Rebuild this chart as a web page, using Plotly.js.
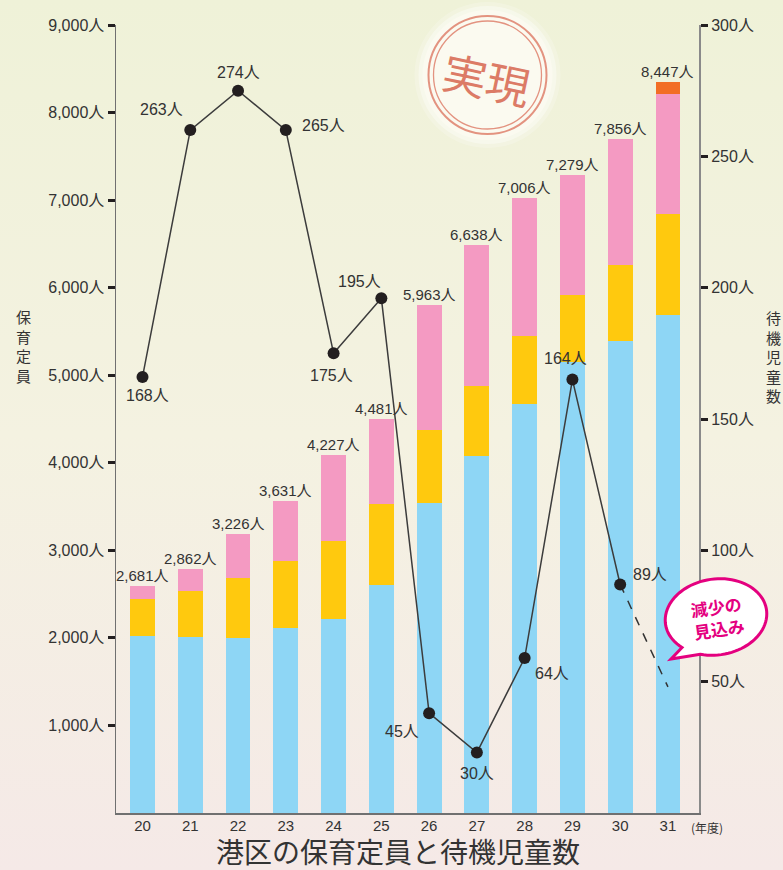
<!DOCTYPE html>
<html>
<head>
<meta charset="utf-8">
<script src="https://cdn.plot.ly/plotly-3.0.1.min.js"></script>
<style>
html,body{margin:0;padding:0;}
body{width:783px;height:870px;background:linear-gradient(to bottom,#eff2d8 0%,#f4f2e1 50%,#f5e9e7 100%);}
#chart{width:783px;height:870px;}
</style>
</head>
<body>
<div id="chart"></div>
<script>
// ---- data ----
const years = [20, 21, 22, 23, 24, 25, 26, 27, 28, 29, 30, 31];
const yearLabels = ['20', '21', '22', '23', '24', '25', '26', '27', '28', '29', '30', '31'];
const blueSeg   = [2022, 2007, 1999, 2113, 2212, 2600, 3535, 4082, 4667, 5146, 5393, 5693];
const yellowSeg = [418, 524, 684, 760, 889, 927, 844, 798, 783, 775, 867, 1152];
const pinkSeg   = [148, 251, 498, 696, 992, 977, 1425, 1608, 1577, 1365, 1437, 1365];
const orangeSeg = [0, 0, 0, 0, 0, 0, 0, 0, 0, 0, 0, 137];
const capacityLabels = ['2,681人', '2,862人', '3,226人', '3,631人', '4,227人', '4,481人', '5,963人', '6,638人', '7,006人', '7,279人', '7,856人', '8,447人'];
const waitYears  = [20, 21, 22, 23, 24, 25, 26, 27, 28, 29, 30];
const waitValues = [166, 260, 275, 260, 175, 196, 38, 23, 59, 165, 87];
const waitLabels = ['168人', '263人', '274人', '265人', '175人', '195人', '45人', '30人', '64人', '164人', '89人'];
const forecastYears  = [30, 31];
const forecastValues = [87, 48];
const leftTicks = [1000, 2000, 3000, 4000, 5000, 6000, 7000, 8000, 9000];
const leftTickText = ['1,000人', '2,000人', '3,000人', '4,000人', '5,000人', '6,000人', '7,000人', '8,000人', '9,000人'];
const rightTicks = [50, 100, 150, 200, 250, 300];
const rightTickText = ['50人', '100人', '150人', '200人', '250人', '300人'];
const leftTitle = '保育定員';
const rightTitle = '待機児童数';
const chartTitle = '港区の保育定員と待機児童数';

// ---- styling (label offsets in px) ----
const waitLabelShift = [[5,-19],[-29,21],[0,18],[38,5],[-2,-22],[-22,17],[-27,-18],[0,-21],[27,-15],[-7,21],[30,10]];

const FONT = 'Liberation Sans, Arial, Noto Sans CJK JP, sans-serif';
const CJK = 'Noto Sans CJK JP, sans-serif';
const TXT = '#333333';

// pixel -> paper helpers (plot area 116..699 x 25..813)
const L = 116, R = 699, T = 25, B = 813;
const px = x => (x - L) / (R - L);
const py = y => (B - y) / (B - T);

const stackSeries = [
  {y: blueSeg, color: '#8ed6f5'},
  {y: yellowSeg, color: '#ffc90e'},
  {y: pinkSeg, color: '#f49ac2'},
  {y: orangeSeg, color: '#f26e25'}
];
const traces = stackSeries.map(s => ({
  type: 'bar', x: years, y: s.y, width: 0.52,
  marker: {color: s.color, line: {width: 0}},
  hoverinfo: 'skip', showlegend: false, yaxis: 'y'
}));
traces.push({
  type: 'scatter', mode: 'lines', x: forecastYears, y: forecastValues, yaxis: 'y2',
  line: {color: '#333', width: 1.5, dash: 'dash'}, showlegend: false, hoverinfo: 'skip'
});
traces.push({
  type: 'scatter', mode: 'lines+markers', x: waitYears, y: waitValues, yaxis: 'y2',
  line: {color: '#3c3c3c', width: 1.5},
  marker: {size: 12, color: '#231f20'}, showlegend: false, hoverinfo: 'skip'
});

const totals = years.map((_, i) => blueSeg[i] + yellowSeg[i] + pinkSeg[i] + orangeSeg[i]);
const annotations = [];
years.forEach((yr, i) => annotations.push({
  x: yr, y: totals[i], xref: 'x', yref: 'y', xanchor: 'center', yanchor: 'bottom', yshift: 0,
  text: capacityLabels[i], showarrow: false, font: {family: FONT, size: 15, color: TXT}
}));
waitYears.forEach((yr, i) => annotations.push({
  x: yr, y: waitValues[i], xref: 'x', yref: 'y2', xanchor: 'center', yanchor: 'middle',
  xshift: waitLabelShift[i][0], yshift: waitLabelShift[i][1],
  text: waitLabels[i], showarrow: false, font: {family: FONT, size: 16, color: TXT}
}));
function paperText(x, y, text, font, extra) {
  annotations.push(Object.assign({x: px(x), y: py(y), xref: 'paper', yref: 'paper',
    xanchor: 'center', yanchor: 'middle', text: text, showarrow: false, font: font}, extra || {}));
}
// vertical axis titles (one character per line)
paperText(23, 346, [...leftTitle].join('<br>'), {family: CJK, size: 15, color: TXT});
paperText(773, 356, [...rightTitle].join('<br>'), {family: CJK, size: 15, color: TXT});
paperText(707, 827, '(年度)', {family: CJK, size: 12, color: TXT});
paperText(398, 870, chartTitle, {family: 'Liberation Sans, Noto Sans CJK JP, sans-serif', size: 28, color: TXT},
  {yanchor: 'bottom', borderpad: 0});
// stamp text
paperText(487, 78, '実現', {family: CJK, size: 44, color: '#dc7b66'}, {textangle: 12});
// bubble text
paperText(717, 617, '減少の<br>見込み', {family: CJK, size: 17, color: '#e4007f', weight: 'bold'}, {textangle: -8});

function circ(cx, cy, r, fill, lineColor, lineW) {
  return {type: 'circle', xref: 'paper', yref: 'paper', layer: 'above',
    x0: px(cx - r), x1: px(cx + r), y0: py(cy + r), y1: py(cy - r),
    fillcolor: fill, line: {color: lineColor, width: lineW}};
}
const shapes = [
  circ(487.5, 75, 73, 'rgba(255,255,255,0.2)', 'rgba(0,0,0,0)', 0),
  circ(487.5, 75, 69, 'rgba(255,255,255,0.35)', 'rgba(0,0,0,0)', 0),
  circ(487.5, 75, 65, '#fbfaf0', 'rgba(0,0,0,0)', 0),
  circ(487.5, 75, 59, 'rgba(0,0,0,0)', '#e39380', 2),
  circ(487.5, 75, 54, 'rgba(0,0,0,0)', '#e39380', 1.3)
];
// speech bubble
(function () {
  const cx = 716, cy = 617, rx = 51, ry = 38, phi = -8 * Math.PI / 180;
  const pts = [];
  for (let a = 138; a <= 475; a += 4) {
    const t = a * Math.PI / 180;
    const dx = rx * Math.cos(t), dy = ry * Math.sin(t);
    pts.push([cx + dx * Math.cos(phi) - dy * Math.sin(phi), cy + dx * Math.sin(phi) + dy * Math.cos(phi)]);
  }
  pts.push([671, 659]);
  const d = pts.map((p, i) => (i ? 'L' : 'M') + px(p[0]).toFixed(5) + ',' + py(p[1]).toFixed(5)).join(' ') + ' Z';
  shapes.push({type: 'path', xref: 'paper', yref: 'paper', layer: 'above', path: d,
    fillcolor: '#ffffff', line: {color: '#e4007f', width: 3}});
})();

const tickAxis = {showgrid: false, zeroline: false, fixedrange: true};
const layout = {
  width: 783, height: 870,
  margin: {l: L, r: 783 - R, t: T, b: 870 - B, pad: 0},
  paper_bgcolor: 'rgba(0,0,0,0)', plot_bgcolor: 'rgba(0,0,0,0)',
  barmode: 'stack', showlegend: false,
  xaxis: {range: [19.445, 31.65], tickvals: years, ticktext: yearLabels, ticks: '', ticklabelstandoff: -2,
    showline: true, linecolor: '#707070', linewidth: 1.5, showgrid: false, zeroline: false,
    tickfont: {family: FONT, size: 15, color: TXT}},
  yaxis: Object.assign({}, tickAxis, {range: [0, 9000], tickvals: leftTicks, ticktext: leftTickText,
    ticks: 'outside', ticklen: 7, tickwidth: 3, tickcolor: '#231f20',
    showline: true, linecolor: '#707070', linewidth: 1.5,
    tickfont: {family: FONT, size: 16, color: TXT}}),
  yaxis2: Object.assign({}, tickAxis, {range: [0, 300], overlaying: 'y', side: 'right',
    tickvals: rightTicks, ticktext: rightTickText,
    ticks: 'outside', ticklen: 7, tickwidth: 3, tickcolor: '#231f20',
    showline: true, linecolor: '#8a8a8a', linewidth: 2,
    tickfont: {family: FONT, size: 16, color: TXT}}),
  yaxis3: Object.assign({}, tickAxis, {range: [0, 9000], overlaying: 'y', side: 'left',
    tickvals: leftTicks, ticks: 'inside', ticklen: 7, tickwidth: 3, tickcolor: '#231f20',
    showticklabels: false, showline: false}),
  yaxis4: Object.assign({}, tickAxis, {range: [0, 300], overlaying: 'y', side: 'right',
    tickvals: rightTicks, ticks: 'inside', ticklen: 7, tickwidth: 3, tickcolor: '#231f20',
    showticklabels: false, showline: false}),
  annotations: annotations,
  shapes: shapes
};
Plotly.newPlot('chart', traces, layout, {displayModeBar: false, staticPlot: true});
</script>
</body>
</html>
